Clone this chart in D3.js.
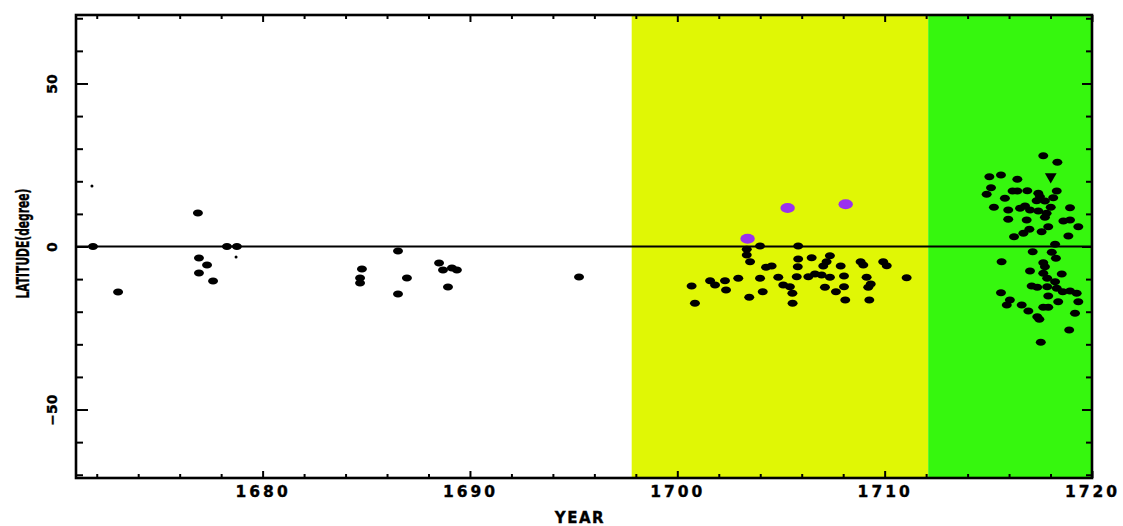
<!DOCTYPE html>
<html>
<head>
<meta charset="utf-8">
<script src="https://cdn.jsdelivr.net/npm/d3@7"></script>
<style>
  body { margin: 0; background: #ffffff; }
  svg { display: block; }
  .lbl { font-family: "DejaVu Sans", sans-serif; font-weight: bold; fill: #000; stroke: #000; stroke-width: 0.35px; }
</style>
</head>
<body>
<svg id="chart" width="1123" height="526"></svg>
<script>
// Axis extents and tick labels
const yearDomain = [1671, 1720];
const latDomain = [-71, 71];
const yearMajorTicks = [1680, 1690, 1700, 1710, 1720];
const yearMinorTicks = [1672, 1674, 1676, 1678, 1682, 1684, 1686, 1688, 1692, 1694, 1696, 1698,
                        1702, 1704, 1706, 1708, 1712, 1714, 1716, 1718];
const latMajorTicks = [-50, 0, 50];
const latMinorTicks = [-70, -60, -40, -30, -20, -10, 10, 20, 30, 40, 60, 70];

// Shaded epochs [start year, end year]
const epochs = [[1697.8, 1712.1], [1712.1, 1720]];
const epochColors = ["#e0f705", "#36f70e"];

// Sunspot positions [year, latitude]
const spotsEarly = [
  [1671.82, 0], [1673.03, -13.95], [1676.88, 10.27], [1676.93, -3.53], [1677.32, -5.67],
  [1676.93, -8.13], [1677.61, -10.58], [1678.28, 0], [1678.76, 0],
  [1684.79, -6.9], [1684.70, -9.66], [1684.70, -11.2],
  [1686.53, -1.38], [1686.96, -9.66], [1686.53, -14.57],
  [1688.51, -5.06], [1688.70, -7.21], [1689.13, -6.59], [1689.37, -7.21], [1688.94, -12.42],
  [1695.26, -9.35]
];
const spotsFaint = [[1671.77, 18.55], [1678.72, -3.22]];
const spotsMiddle = [
  [1700.69, -12.11], [1700.85, -17.42], [1701.58, -10.49], [1701.82, -11.81], [1702.30, -10.49],
  [1702.35, -13.34], [1702.94, -9.75], [1703.35, -0.86], [1703.35, -2.61], [1703.51, -4.66],
  [1703.47, -15.58], [1703.99, 0.15], [1703.99, -9.75], [1704.12, -13.86], [1704.28, -6.38],
  [1704.55, -5.98], [1704.87, -9.45], [1705.11, -11.81], [1705.43, -12.33], [1705.55, -14.35],
  [1705.56, -17.42], [1705.81, -6.2], [1705.76, -9.26], [1705.83, 0.15], [1705.83, -3.83],
  [1706.32, -9.26], [1706.48, -3.43], [1706.64, -8.43], [1706.96, -8.74], [1707.04, -5.98],
  [1707.12, -12.51], [1707.20, -4.66], [1707.36, -2.82], [1707.36, -9.45], [1707.65, -13.86],
  [1707.88, -5.98], [1708.04, -9.05], [1708.04, -12.33], [1708.10, -16.41], [1708.84, -4.66],
  [1708.97, -5.67], [1709.13, -9.45], [1709.33, -11.5], [1709.21, -12.51], [1709.26, -16.41],
  [1709.93, -4.66], [1710.10, -5.89], [1711.06, -9.57]
];
const spotsLate = [
  [1717.65, 27.85], [1718.33, 25.82], [1715.05, 21.41], [1715.61, 21.93], [1716.40, 20.61],
  [1715.13, 18.03], [1714.92, 16.01], [1716.17, 17.02], [1716.40, 17.02], [1716.88, 17.11],
  [1717.41, 16.32], [1717.49, 15.27], [1718.30, 17.02], [1718.13, 14.97], [1715.80, 14.78],
  [1717.33, 14.05], [1717.73, 13.95], [1715.27, 12.02], [1715.96, 11.19], [1716.53, 11.72],
  [1716.77, 12.42], [1717.01, 11.19], [1717.41, 10.89], [1717.81, 10.18], [1718.01, 12.02],
  [1718.94, 11.90], [1715.96, 8.34], [1716.85, 8.13], [1717.73, 8.96], [1718.62, 7.82],
  [1718.94, 8.13], [1719.34, 6.07], [1716.98, 5.28], [1716.69, 4.05], [1717.57, 4.54],
  [1717.89, 6.07], [1716.24, 3.01], [1718.86, 3.22], [1718.22, 0.67], [1717.14, -1.59],
  [1718.06, -1.78], [1718.26, -3.62], [1715.64, -4.66], [1717.65, -4.97], [1717.73, -6.20],
  [1717.01, -7.51], [1717.65, -8.22], [1718.54, -8.43], [1717.84, -9.75], [1718.22, -10.80],
  [1717.09, -12.11], [1717.36, -12.51], [1717.84, -12.33], [1718.30, -12.82], [1718.59, -13.86],
  [1718.94, -13.65], [1719.26, -14.35], [1715.61, -14.17], [1717.89, -15.18], [1718.37, -16.93],
  [1719.34, -16.93], [1716.04, -16.41], [1715.89, -17.94], [1716.61, -17.94], [1716.93, -19.78],
  [1717.65, -18.65], [1717.89, -18.65], [1719.18, -20.49], [1717.36, -21.53], [1717.46, -22.33],
  [1718.90, -25.61], [1717.53, -29.38]
];
const spotsTriangle = [[1718.01, 21.41]];
const spotsHighlighted = [[1703.39, 2.39], [1705.32, 11.81], [1708.12, 12.94]];

const svg = d3.select("#chart");
const W = 1123, H = 526;
const margin = { top: 15, right: 31, bottom: 48, left: 76 };

const x = d3.scaleLinear().domain(yearDomain).range([margin.left, W - margin.right]);
const y = d3.scaleLinear().domain(latDomain).range([H - margin.bottom, margin.top]);

const plotBottom = H - margin.bottom, plotTop = margin.top;
const plotLeft = margin.left, plotRight = W - margin.right;

// Epoch bands
svg.append("g").selectAll("rect").data(epochs).join("rect")
  .attr("x", d => x(d[0]))
  .attr("width", d => x(d[1]) - x(d[0]))
  .attr("y", y(latDomain[1]))
  .attr("height", y(latDomain[0]) - y(latDomain[1]))
  .attr("fill", (d, i) => epochColors[i]);

// Equator line
svg.append("line")
  .attr("x1", x(yearDomain[0])).attr("x2", x(yearDomain[1]))
  .attr("y1", y(0)).attr("y2", y(0))
  .attr("stroke", "#000").attr("stroke-width", 2.2);

// Spots
const dots = svg.append("g").attr("fill", "#000");
dots.selectAll("ellipse.spot").data([...spotsEarly, ...spotsMiddle, ...spotsLate]).join("ellipse")
  .attr("class", "spot")
  .attr("cx", d => x(d[0])).attr("cy", d => y(d[1]))
  .attr("rx", 5).attr("ry", 3.5);
dots.selectAll("circle.faint").data(spotsFaint).join("circle")
  .attr("class", "faint")
  .attr("cx", d => x(d[0])).attr("cy", d => y(d[1]))
  .attr("r", 1.5);
dots.selectAll("path.tri").data(spotsTriangle).join("path")
  .attr("class", "tri")
  .attr("d", d3.symbol(d3.symbolTriangle, 60))
  .attr("transform", d => `translate(${x(d[0])},${y(d[1])}) rotate(180)`);

svg.append("g").selectAll("ellipse").data(spotsHighlighted).join("ellipse")
  .attr("cx", d => x(d[0])).attr("cy", d => y(d[1]))
  .attr("rx", 7.2).attr("ry", 5)
  .attr("fill", "#9a31ee");

// Axes (ticks point inward)
function styleAxis(g) {
  g.select(".domain").remove();
  g.selectAll(".tick line").attr("stroke", "#000").attr("stroke-width", 2);
}

svg.append("g").attr("transform", `translate(0,${plotBottom})`)
  .call(d3.axisBottom(x).tickValues(yearMinorTicks).tickSize(-4).tickFormat(""))
  .call(styleAxis);
const xMajor = svg.append("g").attr("transform", `translate(0,${plotBottom})`)
  .call(d3.axisBottom(x).tickValues(yearMajorTicks).tickSize(-7).tickFormat(d3.format("d")))
  .call(styleAxis);
xMajor.selectAll(".tick text")
  .attr("class", "lbl").attr("y", 19).attr("dy", null)
  .style("font-size", "15.5px").style("letter-spacing", "3px");

svg.append("g").attr("transform", `translate(0,${plotTop})`)
  .call(d3.axisTop(x).tickValues(yearMinorTicks).tickSize(-4).tickFormat(""))
  .call(styleAxis);
svg.append("g").attr("transform", `translate(0,${plotTop})`)
  .call(d3.axisTop(x).tickValues(yearMajorTicks).tickSize(-7).tickFormat(""))
  .call(styleAxis);

svg.append("g").attr("transform", `translate(${plotLeft},0)`)
  .call(d3.axisLeft(y).tickValues(latMinorTicks).tickSize(-7).tickFormat(""))
  .call(styleAxis);
const yMajor = svg.append("g").attr("transform", `translate(${plotLeft},0)`)
  .call(d3.axisLeft(y).tickValues(latMajorTicks).tickSize(-12).tickFormat(d3.format("d")))
  .call(styleAxis);
yMajor.selectAll(".tick text")
  .attr("class", "lbl").attr("x", null).attr("dy", null)
  .attr("text-anchor", "middle")
  .attr("transform", "translate(-19,0) rotate(-90)")
  .style("font-size", "14px");

svg.append("g").attr("transform", `translate(${plotRight},0)`)
  .call(d3.axisRight(y).tickValues(latMinorTicks).tickSize(-6).tickFormat(""))
  .call(styleAxis);
svg.append("g").attr("transform", `translate(${plotRight},0)`)
  .call(d3.axisRight(y).tickValues(latMajorTicks).tickSize(-10).tickFormat(""))
  .call(styleAxis);

// Frame
svg.append("rect")
  .attr("x", plotLeft).attr("y", plotTop)
  .attr("width", plotRight - plotLeft).attr("height", plotBottom - plotTop)
  .attr("fill", "none").attr("stroke", "#000").attr("stroke-width", 2.6);

// Titles
svg.append("text").attr("class", "lbl")
  .attr("x", (plotLeft + plotRight) / 2 - 4).attr("y", 523)
  .attr("text-anchor", "middle")
  .style("font-size", "15px").style("letter-spacing", "1.5px")
  .text("YEAR");

svg.append("text").attr("class", "lbl")
  .attr("transform", `translate(29,${y(0) - 3}) rotate(-90)`)
  .attr("text-anchor", "middle")
  .attr("textLength", 110).attr("lengthAdjust", "spacingAndGlyphs")
  .style("font-size", "17px")
  .text("LATITUDE(degree)");
</script>
</body>
</html>
